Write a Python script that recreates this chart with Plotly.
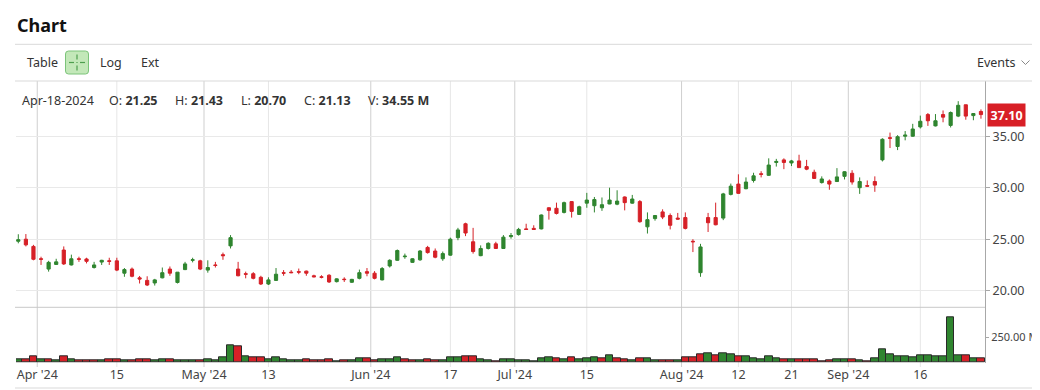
import plotly.graph_objects as go
from datetime import datetime

# page keeps its default 8px body margin, so the figure fills the rest
OFF = 8
FW, FH = 1040 - OFF, 390 - OFF

# ---------------- data ----------------
dates = [
    "2024-03-26", "2024-03-27", "2024-03-28",
    "2024-04-01", "2024-04-02", "2024-04-03", "2024-04-04", "2024-04-05",
    "2024-04-08", "2024-04-09", "2024-04-10", "2024-04-11", "2024-04-12",
    "2024-04-15", "2024-04-16", "2024-04-17", "2024-04-18", "2024-04-19",
    "2024-04-22", "2024-04-23", "2024-04-24", "2024-04-25", "2024-04-26",
    "2024-04-29", "2024-04-30",
    "2024-05-01", "2024-05-02", "2024-05-03",
    "2024-05-06", "2024-05-07", "2024-05-08", "2024-05-09", "2024-05-10",
    "2024-05-13", "2024-05-14", "2024-05-15", "2024-05-16", "2024-05-17",
    "2024-05-20", "2024-05-21", "2024-05-22", "2024-05-23", "2024-05-24",
    "2024-05-28", "2024-05-29", "2024-05-30", "2024-05-31",
    "2024-06-03", "2024-06-04", "2024-06-05", "2024-06-06", "2024-06-07",
    "2024-06-10", "2024-06-11", "2024-06-12", "2024-06-13", "2024-06-14",
    "2024-06-17", "2024-06-18", "2024-06-20", "2024-06-21",
    "2024-06-24", "2024-06-25", "2024-06-26", "2024-06-27", "2024-06-28",
    "2024-07-01", "2024-07-02", "2024-07-03", "2024-07-05",
    "2024-07-08", "2024-07-09", "2024-07-10", "2024-07-11", "2024-07-12",
    "2024-07-15", "2024-07-16", "2024-07-17", "2024-07-18", "2024-07-19",
    "2024-07-22", "2024-07-23", "2024-07-24", "2024-07-25", "2024-07-26",
    "2024-07-29", "2024-07-30", "2024-07-31",
    "2024-08-01", "2024-08-02",
    "2024-08-05", "2024-08-06", "2024-08-07", "2024-08-08", "2024-08-09",
    "2024-08-12", "2024-08-13", "2024-08-14", "2024-08-15", "2024-08-16",
    "2024-08-19", "2024-08-20", "2024-08-21", "2024-08-22", "2024-08-23",
    "2024-08-26", "2024-08-27", "2024-08-28", "2024-08-29", "2024-08-30",
    "2024-09-03", "2024-09-04", "2024-09-05", "2024-09-06",
    "2024-09-09", "2024-09-10", "2024-09-11", "2024-09-12", "2024-09-13",
    "2024-09-16", "2024-09-17", "2024-09-18", "2024-09-19", "2024-09-20",
    "2024-09-23", "2024-09-24", "2024-09-25", "2024-09-26",
]

opens = [
    24.80, 25.00, 24.30, 23.10, 22.10, 22.55, 23.95, 22.50, 23.10, 23.08,
    22.25, 22.78, 22.90, 22.90, 21.70, 22.10, 21.25, 21.00, 20.75, 21.25,
    22.10, 20.80, 22.05, 22.95, 22.90, 22.00, 22.50, 23.50, 24.35, 22.10,
    21.65, 21.65, 21.30, 20.65, 21.00, 21.75, 21.80, 21.85, 21.90, 21.45,
    21.35, 21.50, 20.88, 21.12, 20.82, 21.20, 21.85, 21.70, 21.05, 22.40,
    22.95, 23.30, 22.75, 23.00, 24.20, 23.85, 23.10, 23.45, 25.15, 26.50,
    24.75, 23.40, 24.10, 24.55, 24.10, 25.25, 25.45, 26.00, 26.05, 26.00,
    28.05, 28.00, 27.60, 28.65, 27.40, 28.50, 28.25, 28.05, 28.42, 28.40,
    29.10, 28.50, 28.65, 26.20, 27.00, 27.65, 27.30, 27.05, 27.10, 24.80,
    21.75, 27.10, 27.10, 27.05, 29.35, 30.35, 29.90, 30.70, 31.35, 31.20,
    32.45, 32.70, 32.40, 32.60, 32.05, 31.50, 30.50, 30.65, 30.60, 31.10,
    31.40, 30.00, 30.20, 30.60, 32.70, 34.85, 34.00, 35.00, 35.00, 35.90,
    37.10, 36.00, 37.10, 36.05, 36.95, 38.05, 37.00, 37.40,
]
highs = [
    25.48, 25.50, 24.45, 23.30, 22.90, 23.10, 24.30, 23.50, 23.30, 23.20,
    22.80, 23.00, 23.20, 23.20, 22.20, 22.25, 21.43, 21.40, 21.15, 22.25,
    22.35, 21.80, 22.80, 23.20, 23.00, 22.95, 22.80, 23.70, 25.40, 22.80,
    21.85, 21.80, 21.45, 21.30, 22.20, 22.00, 22.00, 22.15, 21.95, 21.55,
    21.50, 21.60, 21.20, 21.30, 21.15, 22.05, 22.20, 21.90, 22.30, 23.05,
    24.00, 23.60, 23.15, 23.95, 24.35, 24.10, 23.80, 25.15, 26.10, 26.60,
    26.10, 24.40, 24.70, 24.75, 25.40, 25.60, 26.10, 26.50, 26.35, 27.40,
    28.10, 28.55, 28.65, 28.70, 28.25, 29.50, 29.10, 29.05, 30.00, 29.75,
    29.15, 29.30, 28.80, 27.60, 27.35, 27.90, 27.50, 27.55, 27.60, 25.00,
    24.55, 27.55, 28.55, 29.50, 30.40, 31.30, 31.00, 31.45, 31.60, 32.85,
    32.80, 32.85, 32.70, 33.20, 32.70, 31.75, 31.10, 30.80, 31.90, 31.60,
    31.70, 31.00, 30.70, 31.10, 34.80, 35.35, 35.10, 35.50, 36.20, 37.00,
    37.25, 37.15, 37.50, 37.40, 38.40, 38.05, 37.25, 37.60,
]
lows = [
    24.60, 24.30, 22.95, 22.50, 21.85, 22.50, 22.50, 22.45, 22.80, 22.65,
    22.15, 22.50, 22.50, 21.90, 21.35, 21.30, 20.70, 20.45, 20.50, 21.20,
    21.45, 20.70, 22.00, 22.75, 22.00, 21.75, 22.25, 23.00, 24.10, 21.40,
    21.20, 21.10, 20.55, 20.55, 20.95, 21.45, 21.70, 21.60, 21.45, 21.30,
    21.20, 20.75, 20.80, 20.85, 20.75, 21.10, 21.40, 21.10, 21.00, 22.25,
    22.90, 23.10, 22.70, 22.90, 23.60, 23.15, 22.90, 23.40, 24.90, 25.30,
    23.60, 23.35, 24.00, 24.05, 24.05, 25.05, 25.35, 25.90, 25.90, 25.95,
    26.90, 27.40, 27.50, 27.10, 27.35, 28.05, 27.60, 27.75, 28.40, 28.30,
    27.80, 28.45, 26.60, 25.55, 26.80, 26.95, 25.95, 26.90, 25.95, 23.75,
    21.35, 25.70, 26.35, 26.85, 29.25, 29.40, 29.85, 30.50, 31.00, 31.15,
    32.05, 31.80, 32.10, 31.95, 31.70, 30.85, 30.40, 29.80, 30.55, 30.80,
    30.30, 29.40, 30.10, 29.60, 32.55, 33.85, 33.65, 34.60, 34.95, 35.75,
    36.00, 35.95, 36.35, 35.85, 36.85, 36.60, 36.55, 36.70,
]
closes = [
    24.95, 24.45, 23.05, 23.05, 22.75, 22.80, 22.60, 23.10, 23.05, 22.85,
    22.50, 22.95, 22.85, 22.00, 22.05, 21.40, 21.13, 20.55, 21.05, 21.75,
    21.70, 21.80, 22.60, 23.00, 22.10, 22.25, 22.45, 23.40, 25.15, 21.45,
    21.60, 21.20, 20.65, 21.05, 21.60, 21.70, 21.75, 21.80, 21.70, 21.35,
    21.30, 20.85, 21.15, 21.08, 21.10, 21.75, 21.70, 21.20, 22.15, 22.95,
    23.90, 23.35, 23.10, 23.85, 23.70, 23.25, 23.60, 25.00, 25.90, 25.60,
    23.80, 24.10, 24.60, 24.10, 25.20, 25.35, 25.95, 25.95, 25.95, 27.35,
    27.80, 27.50, 28.55, 27.70, 28.15, 28.80, 28.85, 28.35, 28.80, 28.70,
    28.55, 28.90, 26.70, 26.90, 27.30, 27.15, 26.35, 26.95, 26.05, 24.75,
    24.25, 26.60, 26.40, 29.40, 30.15, 29.45, 30.55, 31.15, 31.30, 32.20,
    32.55, 32.45, 32.60, 31.95, 31.80, 30.90, 30.85, 30.35, 31.05, 31.55,
    30.55, 30.60, 30.15, 30.25, 34.70, 34.80, 34.95, 35.10, 35.70, 36.45,
    36.50, 36.50, 36.85, 37.30, 38.00, 36.95, 37.20, 37.10,
]
volumes_m = [
    33, 33, 66, 33, 33, 20, 66, 33, 20, 20,
    20, 20, 33, 33, 20, 20, 34.55, 33, 20, 33,
    33, 20, 20, 20, 20, 33, 20, 52, 170, 160,
    62, 52, 52, 33, 52, 33, 20, 20, 33, 20,
    20, 33, 10, 20, 20, 43, 43, 26, 33, 33,
    52, 33, 26, 26, 33, 26, 26, 52, 52, 66,
    66, 33, 20, 10, 33, 33, 26, 26, 10, 43,
    52, 43, 33, 52, 33, 43, 52, 43, 75, 43,
    33, 20, 43, 43, 20, 20, 20, 20, 52, 52,
    82, 92, 69, 92, 82, 66, 59, 43, 33, 66,
    43, 33, 33, 33, 33, 33, 10, 20, 33, 33,
    33, 26, 10, 43, 134, 82, 66, 59, 49, 75,
    69, 66, 59, 446, 72, 72, 43, 43,
]

x_tick_dates = ["2024-04-01", "2024-04-15", "2024-05-01", "2024-05-13",
                "2024-06-03", "2024-06-17", "2024-07-01", "2024-07-15",
                "2024-08-01", "2024-08-12", "2024-08-21", "2024-09-03",
                "2024-09-16"]
x_tick_labels = ["Apr '24", "15", "May '24", "13", "Jun '24", "17", "Jul '24",
                 "15", "Aug '24", "12", "21", "Sep '24", "16"]
price_ticks = [20, 25, 30, 35]
volume_ticks_m = [250]
info_date = "2024-04-18"

# ---------------- styling ----------------
GREEN = "#2f852f"
RED = "#d62027"
FONT = "Noto Sans"

def px(x):
    """page pixel x -> paper fraction"""
    return (x - OFF) / FW

def py(y):
    """page pixel y -> paper fraction"""
    return 1 - (y - OFF) / FH

idx = list(range(len(dates)))
vol = [v * 1e6 for v in volumes_m]
vol_colors = [GREEN] + [GREEN if closes[i] >= closes[i - 1] else RED
                        for i in range(1, len(closes))]

tick_pos = []
month_flags = []
for d, lab in zip(x_tick_dates, x_tick_labels):
    i = dates.index(d)
    is_month = "'" in lab
    tick_pos.append(i - 0.5 if is_month else i)
    month_flags.append(is_month)

fig = go.Figure()

fig.add_trace(go.Candlestick(
    x=idx, open=opens, high=highs, low=lows, close=closes,
    increasing=dict(line=dict(color=GREEN, width=1), fillcolor=GREEN),
    decreasing=dict(line=dict(color=RED, width=1), fillcolor=RED),
    whiskerwidth=0, xaxis="x", yaxis="y", showlegend=False,
    hoverinfo="skip",
))

fig.add_trace(go.Bar(
    x=idx, y=vol, width=1.0,
    marker=dict(color=vol_colors, line=dict(color="#2a2a2a", width=1)),
    xaxis="x", yaxis="y2", showlegend=False, hoverinfo="skip",
))

X0, X1 = 16, 985
PRICE_TOP, PRICE_BOT = 81, 307.3
VOL_BOT = 362.7
slot = 7.58
c0 = 18.3
xr = [(X0 - c0) / slot, (X1 - c0) / slot]
def p_at(y):
    return 20 + (290.7 - y) / 10.3
yr = [p_at(PRICE_BOT), p_at(PRICE_TOP)]
vol_per_px = 9.84e6
vr = [0, (VOL_BOT - PRICE_BOT) * vol_per_px]

fig.update_layout(
    width=FW, height=FH, autosize=False,
    margin=dict(l=0, r=0, t=0, b=0, pad=0),
    paper_bgcolor="white", plot_bgcolor="white",
    font=dict(family=FONT, size=12, color="#333"),
    boxgap=0.4,
    bargap=0,
    xaxis=dict(
        domain=[px(X0), px(X1)], range=xr, anchor="y2", automargin=False,
        tickmode="array", tickvals=tick_pos, ticktext=x_tick_labels,
        showgrid=False, zeroline=False, showline=False, ticks="",
        tickfont=dict(size=12.5, color="#444", family=FONT),
        ticklabelstandoff=3,
        rangeslider=dict(visible=False), fixedrange=True,
    ),
    yaxis=dict(
        domain=[py(PRICE_BOT), py(PRICE_TOP)], range=yr, anchor="x",
        automargin=False,
        side="right", tickmode="array", tickvals=price_ticks,
        ticktext=[f"{v:.2f}" for v in price_ticks],
        showgrid=True, gridcolor="#e9e9e9", gridwidth=1, zeroline=False,
        showline=True, linecolor="#a8a8a8", linewidth=1,
        ticks="outside", ticklen=4, tickcolor="#a8a8a8",
        tickfont=dict(size=12.5, color="#444", family=FONT),
        fixedrange=True,
    ),
    yaxis2=dict(
        domain=[py(VOL_BOT), py(PRICE_BOT)], range=vr, anchor="x",
        automargin=False,
        side="right", tickmode="array", tickvals=[v * 1e6 for v in volume_ticks_m],
        ticktext=[f"{v:.2f} M" for v in volume_ticks_m],
        showgrid=False, zeroline=False,
        showline=True, linecolor="#a8a8a8", linewidth=1,
        ticks="outside", ticklen=3, tickcolor="#a8a8a8",
        tickfont=dict(size=11, color="#444", family=FONT),
        fixedrange=True,
    ),
)

shapes = []
for pos, is_month in zip(tick_pos, month_flags):
    shapes.append(dict(type="line", xref="x", yref="paper",
                       x0=pos, x1=pos, y0=py(367), y1=py(PRICE_TOP),
                       line=dict(color="#cfcfcf" if is_month else "#e6e6e6", width=1),
                       layer="below"))
for yy, xe, col in [(44.3, 1040, "#d9d9d9"), (81, 1040, "#d9d9d9"),
                    (PRICE_BOT, X1, "#c8c8c8"), (388, 1040, "#d9d9d9")]:
    shapes.append(dict(type="line", xref="paper", yref="paper",
                       x0=px(15), x1=px(xe), y0=py(yy), y1=py(yy),
                       line=dict(color=col, width=1)))

# crosshair toggle button
bx0, bx1, by0, by1, r = 65.5, 88.5, 51, 74, 3
path = (f"M {px(bx0 + r)},{py(by0)} L {px(bx1 - r)},{py(by0)} "
        f"Q {px(bx1)},{py(by0)} {px(bx1)},{py(by0 + r)} "
        f"L {px(bx1)},{py(by1 - r)} Q {px(bx1)},{py(by1)} {px(bx1 - r)},{py(by1)} "
        f"L {px(bx0 + r)},{py(by1)} Q {px(bx0)},{py(by1)} {px(bx0)},{py(by1 - r)} "
        f"L {px(bx0)},{py(by0 + r)} Q {px(bx0)},{py(by0)} {px(bx0 + r)},{py(by0)} Z")
shapes.append(dict(type="path", xref="paper", yref="paper", path=path,
                   fillcolor="#c3e8b9", line=dict(color="#7cc47a", width=1)))
cx, cy = 77, 62.5
for (x0, y0, x1, y1) in [(cx, cy - 8, cx, cy - 3), (cx, cy + 3, cx, cy + 8),
                         (cx - 8, cy, cx - 3, cy), (cx + 3, cy, cx + 8, cy)]:
    shapes.append(dict(type="line", xref="paper", yref="paper",
                       x0=px(x0), x1=px(x1), y0=py(y0), y1=py(y1),
                       line=dict(color="#4e9e4e", width=1.2)))
shapes.append(dict(type="rect", xref="paper", yref="paper",
                   x0=px(cx - 0.6), x1=px(cx + 0.6), y0=py(cy - 0.6), y1=py(cy + 0.6),
                   fillcolor="#4e9e4e", line=dict(width=0)))
shapes.append(dict(type="path", xref="paper", yref="paper",
                   path=f"M {px(1021.5)},{py(60.5)} L {px(1025.5)},{py(64.5)} L {px(1029.5)},{py(60.5)}",
                   line=dict(color="#888", width=1)))

fig.update_layout(shapes=shapes)

ann = []
def text(x, y, t, size=12.5, color="#333", anchor="left"):
    ann.append(dict(x=px(x), y=py(y), xref="paper", yref="paper", text=t,
                    showarrow=False, xanchor=anchor, yanchor="middle",
                    font=dict(family=FONT, size=size, color=color)))

text(14.5, 25.5, "<b>Chart</b>", size=18, color="#111")
text(24.5, 62.5, "Table", size=12.5, color="#333")
text(98, 62.5, "Log", size=12.5, color="#333")
text(138.5, 62.5, "Ext", size=12.5, color="#333")
text(975, 62.5, "Events", size=12.5, color="#333")

k = dates.index(info_date)
dlabel = datetime.strptime(info_date, "%Y-%m-%d").strftime("%b-%d-%Y")
text(19.5, 100.5, dlabel, size=12.5, color="#333")
text(107, 100.5, f"O: <b>{opens[k]:.2f}</b>", size=12.5, color="#333")
text(173, 100.5, f"H: <b>{highs[k]:.2f}</b>", size=12.5, color="#333")
text(239, 100.5, f"L: <b>{lows[k]:.2f}</b>", size=12.5, color="#333")
text(302, 100.5, f"C: <b>{closes[k]:.2f}</b>", size=12.5, color="#333")
text(366, 100.5, f"V: <b>{volumes_m[k]:.2f} M</b>", size=12.5, color="#333")

ann.append(dict(x=px(986.5), y=closes[-1], xref="paper", yref="y",
                text=f"<b>{closes[-1]:.2f}</b>", showarrow=False,
                xanchor="left", yanchor="middle",
                bgcolor="#d81f26", borderpad=2.5,
                font=dict(family=FONT, size=12.5, color="white")))

fig.update_layout(annotations=ann)

fig.write_html("out.html", config={"displayModeBar": False})
